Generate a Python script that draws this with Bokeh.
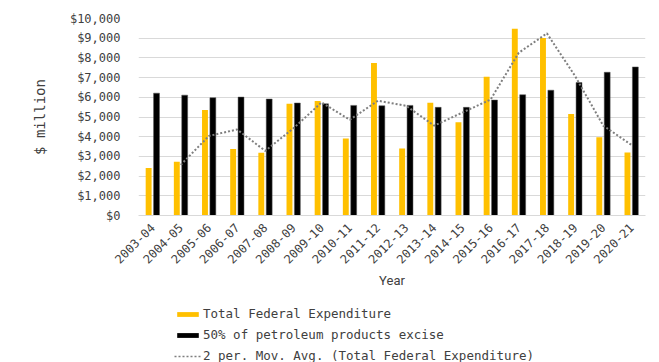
import math
from bokeh.plotting import figure
from bokeh.layouts import column
from bokeh.models import ColumnDataSource, FactorRange, Legend, LegendItem, NumeralTickFormatter, FixedTicker
from bokeh.transform import dodge
from bokeh.embed import file_html
from bokeh.resources import INLINE

years = ["2003-04", "2004-05", "2005-06", "2006-07", "2007-08", "2008-09", "2009-10",
         "2010-11", "2011-12", "2012-13", "2013-14", "2014-15", "2015-16", "2016-17",
         "2017-18", "2018-19", "2019-20", "2020-21"]
federal = [2410, 2730, 5350, 3380, 3180, 5670, 5810, 3910, 7740, 3400, 5720, 4730,
           7040, 9480, 9010, 5150, 3970, 3200]
excise = [6210, 6110, 5980, 6010, 5910, 5710, 5670, 5590, 5570, 5590, 5490, 5490,
          5860, 6130, 6360, 6750, 7270, 7540]
mov_years = years[1:]
mov_avg = [2570, 4040, 4365, 3280, 4425, 5740, 4860, 5825, 5570, 4560, 5225, 5885,
           8260, 9245, 7080, 4560, 3585]
y_ticks = [0, 1000, 2000, 3000, 4000, 5000, 6000, 7000, 8000, 9000, 10000]
series_names = ["Total Federal Expenditure", "50% of petroleum products excise",
                "2 per. Mov. Avg. (Total Federal Expenditure)"]

MONO = "DejaVu Sans Mono"
GOLD = "#FFC000"
DARK = "#000000"
DOT = "#7f7f7f"

src = ColumnDataSource(data=dict(year=years, federal=federal, excise=excise))
msrc = ColumnDataSource(data=dict(year=mov_years, avg=mov_avg))

p = figure(x_range=FactorRange(*years, range_padding=0), y_range=(0, 10000),
           width=659, height=300, output_backend="svg", toolbar_location=None,
           min_border_left=138, min_border_right=14, min_border_top=18, min_border_bottom=85)
p.outline_line_color = None

p.vbar(x=dodge("year", -0.14, range=p.x_range), top="federal", width=0.21, source=src,
       fill_color=GOLD, line_color=None)
p.vbar(x=dodge("year", 0.14, range=p.x_range), top="excise", width=0.21, source=src,
       fill_color=DARK, line_color="#555555", line_width=0.5)
p.line(x="year", y="avg", source=msrc, line_color=DOT, line_width=2, line_dash="2 2")

p.yaxis.ticker = FixedTicker(ticks=y_ticks)
p.yaxis.formatter = NumeralTickFormatter(format="$0,0")
p.yaxis.axis_line_color = None
p.yaxis.major_tick_line_color = None
p.yaxis.minor_tick_line_color = None
p.yaxis.major_label_text_font = MONO
p.yaxis.major_label_text_font_size = "12px"
p.yaxis.major_label_text_color = "#404040"
p.yaxis.major_label_standoff = 12
p.yaxis.axis_label = "$ million"
p.yaxis.axis_label_text_font = MONO
p.yaxis.axis_label_text_font_size = "14px"
p.yaxis.axis_label_text_font_style = "normal"
p.yaxis.axis_label_text_color = "#404040"
p.yaxis.axis_label_standoff = 19

p.xaxis.major_label_orientation = math.pi / 4
p.xaxis.major_tick_line_color = None
p.xaxis.minor_tick_line_color = None
p.xaxis.axis_line_color = "#d9d9d9"
p.xaxis.major_label_text_font = MONO
p.xaxis.major_label_text_font_size = "12px"
p.xaxis.major_label_text_color = "#404040"
p.xaxis.major_label_standoff = 4
p.xaxis.axis_label = "Year"
p.xaxis.axis_label_text_font = "Roboto"
p.xaxis.axis_label_text_font_size = "13px"
p.xaxis.axis_label_text_font_style = "normal"
p.xaxis.axis_label_text_color = "#404040"
p.xaxis.axis_label_standoff = 2

p.xgrid.grid_line_color = None
p.ygrid.grid_line_color = "#d9d9d9"
p.ygrid.ticker = FixedTicker(ticks=y_ticks)

# legend figure below the chart (its frame is aligned with the chart's frame)
lg = figure(width=659, height=62, x_range=(0, 1), y_range=(0, 1), output_backend="svg",
            toolbar_location=None, min_border=0)
lg.axis.visible = False
lg.grid.visible = False
lg.outline_line_color = None
offscreen = ColumnDataSource(data=dict(x=[-10, -11], y=[-10, -11]))
l1 = lg.vbar(x="x", top="y", width=0.1, source=offscreen, fill_color=GOLD, line_color=None)
l2 = lg.vbar(x="x", top="y", width=0.1, source=offscreen, fill_color=DARK, line_color=None)
l3 = lg.line(x="x", y="y", source=offscreen, line_color=DOT, line_width=1.5, line_dash="2 2")

legend = Legend(items=[
    LegendItem(label=series_names[0], renderers=[l1]),
    LegendItem(label=series_names[1], renderers=[l2]),
    LegendItem(label=series_names[2], renderers=[l3]),
], location=(36, -1))
legend.border_line_color = None
legend.background_fill_alpha = 0
legend.padding = 3
legend.margin = 0
legend.spacing = 6
legend.glyph_width = 27
legend.glyph_height = 6
legend.label_height = 14
legend.label_standoff = 2
legend.label_text_font = MONO
legend.label_text_font_size = "12.5px"
legend.label_text_color = "#404040"
lg.add_layout(legend, "center")

layout = column(p, lg, spacing=0)
open("out.html", "w").write(file_html(layout, INLINE))
